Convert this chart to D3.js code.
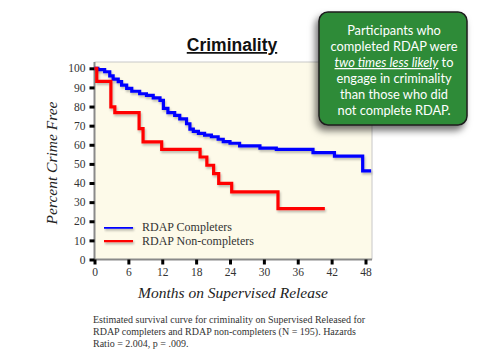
<!DOCTYPE html>
<html>
<head>
<meta charset="utf-8">
<script src="https://cdn.jsdelivr.net/npm/d3@7"></script>
<style>
  body { margin: 0; background: #fff; }
  svg { display: block; }
</style>
</head>
<body>
<svg id="chart" width="500" height="362"></svg>
<script>
// survival curves (months, percent crime free)
const completerMonths = [0, 0.6, 1.8, 2.7, 3.3, 4.2, 4.8, 5.7, 6.6, 8.0, 9.2, 10.4, 11.6, 12.2, 13.0, 14.2, 15.1, 16.3, 16.9, 17.5, 18.4, 19.5, 20.7, 21.9, 22.8, 24.0, 25.7, 29.3, 32.2, 38.7, 42.5, 47.5, 49.0];
const completerValues = [100, 99.3, 98.2, 96, 94.3, 93, 91.2, 89.5, 88, 86.7, 85.8, 84.5, 83.2, 79, 76.8, 75.4, 73.6, 71, 68.2, 67, 66, 65.1, 64.2, 62.9, 61.7, 60.8, 59.4, 58.2, 57.6, 55.9, 54.1, 46.4, 46.4];
const nonCompleterMonths = [0, 0.4, 2.9, 3.6, 7.9, 8.6, 11.9, 18.7, 19.9, 21.1, 22.0, 24.3, 32.5, 40.8];
const nonCompleterValues = [100, 93.2, 79.8, 76.8, 68.4, 61.5, 57.6, 53.6, 49.3, 44.9, 39.8, 35.4, 26.6, 26.6];
const yTicks = [0, 10, 20, 30, 40, 50, 60, 70, 80, 90, 100];
const xTicks = [0, 6, 12, 18, 24, 30, 36, 42, 48];
const legendLabels = ["RDAP Completers", "RDAP Non-completers"];
const seriesColors = ["#0000ff", "#ff0000"];
const calloutLines = ["Participants who", "completed RDAP were", null, "engage in criminality", "than those who did", "not complete RDAP."];
const captionLines = [
  "Estimated survival curve for criminality on Supervised Released for",
  "RDAP completers and RDAP non-completers (N = 195). Hazards",
  "Ratio = 2.004, p = .009."
];

const svg = d3.select("#chart");
const x = d3.scaleLinear().domain([0, 48]).range([94.5, 365.5]);
const y = d3.scaleLinear().domain([0, 100]).range([259.5, 68.3]);
const plotTop = 62, plotRight = 372;

const defs = svg.append("defs");
defs.append("filter").attr("id", "lineShadow")
  .attr("filterUnits", "userSpaceOnUse")
  .attr("x", 0).attr("y", 0).attr("width", 500).attr("height", 362)
  .append("feDropShadow")
  .attr("dx", 1).attr("dy", 2).attr("stdDeviation", 1.2)
  .attr("flood-color", "#000").attr("flood-opacity", 0.25);
defs.append("filter").attr("id", "boxShadow")
  .attr("x", "-20%").attr("y", "-20%").attr("width", "140%").attr("height", "150%")
  .append("feDropShadow")
  .attr("dx", -3).attr("dy", 5).attr("stdDeviation", 3.5)
  .attr("flood-color", "#000").attr("flood-opacity", 0.55);

// plot background + frame
svg.append("rect")
  .attr("x", x(0)).attr("y", plotTop)
  .attr("width", plotRight - x(0)).attr("height", y(0) - plotTop)
  .attr("fill", "#fdfae9");
svg.append("path")
  .attr("d", `M${x(0)},${plotTop}H${plotRight}V${y(0)}`)
  .attr("fill", "none").attr("stroke", "#c8c8c8").attr("stroke-width", 1);
svg.append("path")
  .attr("d", `M${x(0)},${plotTop}V${y(0)}H${plotRight}`)
  .attr("fill", "none").attr("stroke", "#8a8a8a").attr("stroke-width", 2);

// axes
const yAxis = svg.append("g")
  .attr("transform", `translate(${x(0)},0)`)
  .call(d3.axisLeft(y).tickValues(yTicks).tickSize(5).tickSizeOuter(0).tickPadding(4));
const xAxis = svg.append("g")
  .attr("transform", `translate(0,${y(0)})`)
  .call(d3.axisBottom(x).tickValues(xTicks).tickSize(5).tickSizeOuter(0).tickPadding(3));
[yAxis, xAxis].forEach(g => {
  g.select(".domain").remove();
  g.selectAll(".tick line").attr("stroke", "#000").attr("stroke-width", 3);
  g.selectAll(".tick text")
    .attr("fill", "#333")
    .style("font-family", "'Liberation Serif', serif")
    .style("font-size", "11.5px");
});

// curves
const line = d3.line()
  .x(d => x(d[0])).y(d => y(d[1]))
  .curve(d3.curveStepAfter);
const series = [
  d3.zip(completerMonths, completerValues),
  d3.zip(nonCompleterMonths, nonCompleterValues)
];
svg.selectAll(".curve")
  .data(series)
  .join("path")
  .attr("class", "curve")
  .attr("d", line)
  .attr("fill", "none")
  .attr("stroke", (d, i) => seriesColors[i])
  .attr("stroke-width", 3.2)
  .attr("filter", "url(#lineShadow)");

// legend
const legend = svg.append("g").attr("transform", "translate(104,227)");
legendLabels.forEach((label, i) => {
  const row = legend.append("g").attr("transform", `translate(0,${i * 13.5})`);
  row.append("line")
    .attr("x1", 0).attr("x2", 29)
    .attr("stroke", seriesColors[i]).attr("stroke-width", 3.5)
    .attr("filter", "url(#lineShadow)");
  row.append("text")
    .attr("x", 38).attr("y", 4)
    .attr("fill", "#333")
    .style("font-family", "'Liberation Serif', serif")
    .style("font-size", "12px")
    .text(label);
});

// titles
svg.append("text")
  .attr("x", 232).attr("y", 51)
  .attr("text-anchor", "middle")
  .style("font-family", "'Liberation Sans', Arial, sans-serif")
  .style("font-weight", "bold")
  .style("font-size", "17.5px")
  .style("text-decoration", "underline")
  .attr("fill", "#111")
  .text("Criminality");
svg.append("text")
  .attr("transform", "translate(57,163) rotate(-90)")
  .attr("text-anchor", "middle")
  .style("font-family", "'Liberation Serif', serif")
  .style("font-style", "italic")
  .style("font-size", "15.5px")
  .attr("fill", "#222")
  .text("Percent Crime Free");
svg.append("text")
  .attr("x", 233).attr("y", 298)
  .attr("text-anchor", "middle")
  .style("font-family", "'Liberation Serif', serif")
  .style("font-style", "italic")
  .style("font-size", "15.5px")
  .attr("fill", "#222")
  .text("Months on Supervised Release");

// caption
svg.append("g").selectAll("text")
  .data(captionLines)
  .join("text")
  .attr("x", 93).attr("y", (d, i) => 323 + i * 11.8)
  .attr("fill", "#333")
  .style("font-family", "'Liberation Serif', serif")
  .style("font-size", "10px")
  .text(d => d);

// callout box
svg.append("rect")
  .attr("x", 319).attr("y", 12).attr("width", 148).attr("height", 113)
  .attr("rx", 9)
  .attr("fill", "#2f8b38")
  .attr("stroke", "#1e1e1e").attr("stroke-width", 1.5)
  .attr("filter", "url(#boxShadow)");
const callout = svg.append("text")
  .attr("text-anchor", "middle")
  .attr("fill", "#fff")
  .style("font-family", "Lato, sans-serif")
  .style("font-size", "12.8px");
calloutLines.forEach((l, i) => {
  const t = callout.append("tspan").attr("x", 394).attr("y", 35 + i * 16);
  if (l === null) {
    t.append("tspan").style("font-style", "italic").style("text-decoration", "underline")
      .text("two times less likely");
    t.append("tspan").text(" to");
  } else {
    t.text(l);
  }
});
</script>
</body>
</html>
